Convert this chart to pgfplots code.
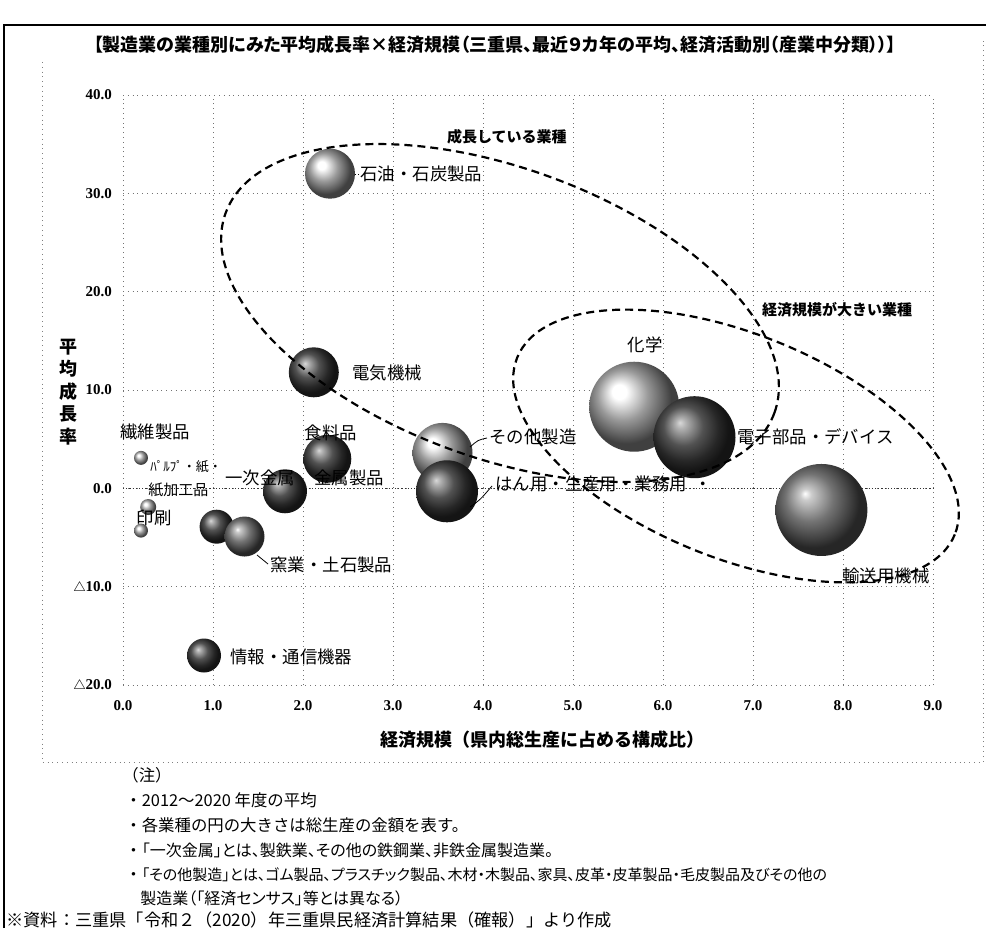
\documentclass[border=0pt]{standalone}
\usepackage{fontspec}
\setmainfont{Noto Sans CJK JP}
\newfontfamily\jpf{Noto Sans CJK JP}
\newfontfamily\jpp{Noto Sans CJK JP}[RawFeature=+palt]
\newfontfamily\numfont{Liberation Serif}
\usepackage{pgfplots}
\pgfplotsset{compat=1.18}

\pgfdeclareradialshading{shL}{\pgfpoint{-9bp}{9bp}}{color(0bp)=(white); color(4bp)=(white); color(14bp)=(black!40); color(21bp)=(black!62); color(25bp)=(black!75); color(50bp)=(black!75)}
\pgfdeclareradialshading{shM}{\pgfpoint{-9bp}{9bp}}{color(0bp)=(white); color(3bp)=(black!20); color(13bp)=(black!55); color(21bp)=(black!75); color(25bp)=(black!85); color(50bp)=(black!85)}
\pgfdeclareradialshading{shD}{\pgfpoint{-9bp}{9bp}}{color(0bp)=(black!15); color(3bp)=(black!30); color(12bp)=(black!68); color(20bp)=(black!85); color(25bp)=(black!92); color(50bp)=(black!92)}
\pgfdeclareplotmark{bL}{\pgfpathcircle{\pgfpointorigin}{\pgfplotmarksize}\pgfshadepath{shL}{0}\pgfusepath{}}
\pgfdeclareplotmark{bM}{\pgfpathcircle{\pgfpointorigin}{\pgfplotmarksize}\pgfshadepath{shM}{0}\pgfusepath{}}
\pgfdeclareplotmark{bD}{\pgfpathcircle{\pgfpointorigin}{\pgfplotmarksize}\pgfshadepath{shD}{0}\pgfusepath{}}

\newcommand{\lf}{\fontsize{8.7}{10}\selectfont}
\newcommand{\nf}{\jpf\fontsize{8.2}{11.5}\selectfont}
\newcommand{\nfp}{\jpp\fontsize{8}{11.5}\selectfont}

\begin{document}
\begin{tikzpicture}
\useasboundingbox (0,0) rectangle (494.5pt,464pt);
\fill[white] (0,0) rectangle (494.5pt,464pt);
\begin{axis}[
  at={(61.5pt,121.5pt)}, anchor=south west,
  scale only axis, width=405pt, height=295pt,
  xmin=0, xmax=9, ymin=-20, ymax=40,
  xtick={0,1,2,3,4,5,6,7,8,9},
  xticklabels={0.0,1.0,2.0,3.0,4.0,5.0,6.0,7.0,8.0,9.0},
  ytick={-20,-10,0,10,20,30,40},
  yticklabels={{\jpf\fontsize{6}{7}\selectfont △}20.0,{\jpf\fontsize{6}{7}\selectfont △}10.0,0.0,10.0,20.0,30.0,40.0},
  axis line style={draw=none},
  major tick length=0pt,
  grid=major,
  major grid style={dotted, black!55, line width=0.5pt},
  tick label style={font=\fontsize{7.5}{8}\selectfont\numfont\bfseries},
  x tick label style={yshift=-4pt},
  y tick label style={xshift=-2pt},
  clip=false,
]
\draw[densely dotted, black!80, line width=0.6pt] (axis cs:0,0) -- (axis cs:9,0);
% bubbles: x = share of GDP, y = average growth rate
\addplot[only marks, mark=bL, mark size=12.5pt] coordinates {(2.30,32.0)};   % 石油・石炭製品
\addplot[only marks, mark=bD, mark size=12.5pt] coordinates {(2.12,11.8)};   % 電気機械
\addplot[only marks, mark=bL, mark size=22.5pt] coordinates {(5.68,8.3)};    % 化学
\addplot[only marks, mark=bD, mark size=20.5pt] coordinates {(6.35,5.2)};    % 電子部品・デバイス
\addplot[only marks, mark=bM, mark size=23pt] coordinates {(7.76,-2.2)};     % 輸送用機械
\addplot[only marks, mark=bL, mark size=15pt] coordinates {(3.55,3.6)};      % その他製造
\addplot[only marks, mark=bD, mark size=15.5pt] coordinates {(3.60,-0.3)};   % はん用・生産用・業務用
\addplot[only marks, mark=bD, mark size=12pt] coordinates {(2.27,3.0)};      % 食料品
\addplot[only marks, mark=bD, mark size=11pt] coordinates {(1.80,-0.3)};     % 金属製品
\addplot[only marks, mark=bD, mark size=8.5pt] coordinates {(1.04,-3.9)};    % 一次金属
\addplot[only marks, mark=bM, mark size=10pt] coordinates {(1.35,-4.9)};     % 窯業・土石製品
\addplot[only marks, mark=bD, mark size=8.5pt] coordinates {(0.90,-17.0)};   % 情報・通信機器
\addplot[only marks, mark=bL, mark size=3.5pt] coordinates {(0.20,3.1)};     % 繊維製品
\addplot[only marks, mark=bL, mark size=4pt] coordinates {(0.28,-1.9)};      % パルプ・紙・紙加工品
\addplot[only marks, mark=bL, mark size=3.5pt] coordinates {(0.20,-4.3)};    % 印刷
\end{axis}

\begin{scope}[x=0.5pt, y=-0.5pt, yshift=464pt]
% frame
\draw[line width=1pt] (4,928) -- (4,25) -- (986,25);
\draw[dotted, black!50] (42,62) -- (42,762) -- (983,762) -- (983,40);
% title
\node[font=\jpp\fontsize{9}{10}\selectfont\bfseries] at (495,45) {【製造業の業種別にみた平均成長率×経済規模（三重県、最近９カ年の平均、経済活動別（産業中分類））】};
% axis titles
\node[font=\fontsize{9}{10}\selectfont\bfseries, align=center, inner sep=0pt] at (68,392) {平\\[1.2pt]均\\[1.2pt]成\\[1.2pt]長\\[1.2pt]率};
\node[font=\fontsize{9}{10}\selectfont\bfseries] at (542,740) {経済規模（県内総生産に占める構成比）};
% ellipses
\draw[dash pattern=on 4pt off 2.5pt, line width=1.1pt, rotate around={-20:(500,313)}] (500,313) ellipse [x radius=292, y radius=145];
\draw[dash pattern=on 4pt off 2.5pt, line width=1.1pt, rotate around={-22:(736,446)}] (736,446) ellipse [x radius=236, y radius=112];
\node[font=\fontsize{7.5}{8}\selectfont\bfseries, anchor=west] at (440,137) {成長している業種};
\node[font=\fontsize{7.5}{8}\selectfont\bfseries, anchor=west] at (755,310) {経済規模が大きい業種};
% labels
\node[font=\lf, anchor=west, inner sep=1pt] at (358,174) {石油・石炭製品};
\node[font=\lf, anchor=west, inner sep=1pt] at (350,373) {電気機械};
\node[font=\lf, anchor=center, inner sep=1pt] at (645,345) {化学};
\node[font=\lf, anchor=west, inner sep=1pt] at (735,437) {電子部品・デバイス};
\node[font=\lf, anchor=west, inner sep=1pt] at (840,576) {輸送用機械};
\node[font=\lf, anchor=west, inner sep=1pt] at (487,437) {その他製造};
\node[font=\lf, anchor=west, inner sep=1pt] at (493,484) {はん用・生産用・業務用\ \ ・};
\node[font=\lf, anchor=center, inner sep=1pt] at (331,433) {食料品};
\node[font=\lf, anchor=west, inner sep=1pt] at (312,478) {金属製品};
\node[font=\lf, anchor=center, inner sep=1pt] at (260,478) {一次金属};
\node[font=\lf, anchor=west, inner sep=1pt] at (268,565) {窯業・土石製品};
\node[font=\lf, anchor=west, inner sep=1pt] at (228,657) {情報・通信機器};
\node[font=\lf, anchor=center, inner sep=1pt] at (155,432) {繊維製品};
\node[font=\fontsize{6.5}{7}\selectfont, anchor=west, inner sep=1pt] at (148,467) {ﾊﾟﾙﾌﾟ・紙・};
\node[font=\fontsize{7.5}{8}\selectfont, anchor=west, inner sep=1pt] at (146,490) {紙加工品};
\node[font=\lf, anchor=center, inner sep=1pt] at (154,518) {印刷};
% leader lines
\draw[densely dotted, line width=0.5pt] (355,175) -- (360,175);
\draw[line width=0.4pt] (470,447) .. controls (478,440) .. (487,438);
\draw[line width=0.4pt] (470,507) .. controls (480,500) .. (492,486);
\draw[line width=0.4pt] (257,555) -- (268,564);
% notes
\begin{scope}[every node/.style={anchor=west, inner sep=0pt}]
\node[font=\nf] at (122,775) {（注）};
\node[font=\nf] at (125,800) {・2012～2020 年度の平均};
\node[font=\nf] at (125,825) {・各業種の円の大きさは総生産の金額を表す。};
\node[font=\nfp] at (125,850) {{\jpf\fontsize{8.2}{11.5}\selectfont ・}「一次金属」とは、製鉄業、その他の鉄鋼業、非鉄金属製造業。};
\node[font=\jpp\fontsize{7.5}{11.5}\selectfont] at (125,875) {{\jpf\fontsize{8.2}{11.5}\selectfont ・}「その他製造」とは、ゴム製品、プラスチック製品、木材・木製品、家具、皮革・皮革製品・毛皮製品及びその他の};
\node[font=\nfp] at (140,898) {製造業（「経済センサス」等とは異なる）};
\node[font=\jpf\fontsize{8.6}{11.5}\selectfont] at (6,920) {※資料：三重県「令和２（2020）年三重県民経済計算結果（確報）」より作成};
\end{scope}
\end{scope}
\end{tikzpicture}
\end{document}
